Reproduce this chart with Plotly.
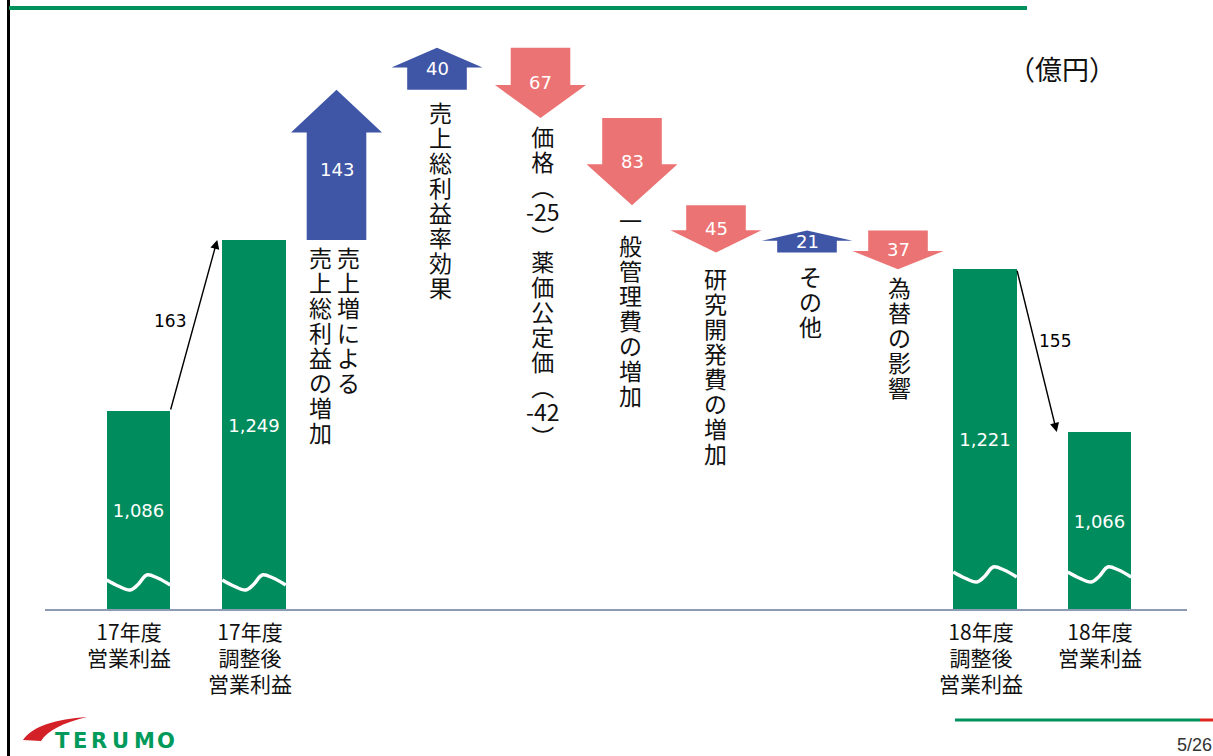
import re
import plotly.graph_objects as go

# ---------------- data ----------------
bar_labels = ["17年度\n営業利益", "17年度\n調整後\n営業利益",
              "18年度\n調整後\n営業利益", "18年度\n営業利益"]
bar_values = [1086, 1249, 1221, 1066]
bridge_values = [163, 155]          # 17年度→調整後, 調整後→18年度
step_values = [143, 40, -67, -83, -45, 21, -37]
step_labels = [
    ["売上増による", "売上総利益の増加"],
    ["売上総利益率効果"],
    ["価格︵-25︶薬価公定価︵-42︶"],
    ["一般管理費の増加"],
    ["研究開発費の増加"],
    ["その他"],
    ["為替の影響"],
]
unit_label = "（億円）"
page_label = "5/26"

# ---------------- layout constants ----------------
W, H = 1213, 756
PXU = 1.05                 # pixels per 億円 on the value axis
FLOOR = 896.5              # value at the broken-axis baseline
BASE_PX = 610              # baseline pixel row
Y_MAX = FLOOR + BASE_PX / PXU
Y_MIN = Y_MAX - H / PXU
X_MAX = W / 100.0          # 1 x-unit = 100 px
bar_x = [1.385, 2.54, 9.85, 10.995]
step_x = [3.365, 4.37, 5.405, 6.32, 7.16, 8.07, 8.98]
BAR_W = 0.635
HEAD_HW = 0.455
BODY_HW = 0.298
HEAD_RATIO = 0.47

GREEN = "#008C5C"
BLUE = "#3F55A5"
RED = "#EC7373"
JP = "Noto Sans CJK JP"
NUM = "DejaVu Sans"


def val_at_px(px):
    return FLOOR + (BASE_PX - px) / PXU


def pp(x, y):
    return f"{x / W:.5f},{1 - y / H:.5f}"


def stacked(lines, glyph_size):
    # lines joined by <br>; base font sets the line pitch, span sets glyph size
    return "<br>".join(f"<span style='font-size:{glyph_size}px'>{t}</span>" for t in lines)


fig = go.Figure()

# ---------------- bars ----------------
fig.add_trace(go.Bar(
    x=bar_x, y=[v - FLOOR for v in bar_values], base=FLOOR,
    width=BAR_W, marker=dict(color=GREEN, line=dict(width=0)),
    text=[f"{v:,}" for v in bar_values], texttemplate="%{text}",
    textposition="inside", insidetextanchor="middle", textangle=0,
    constraintext="none",
    textfont=dict(family=NUM, size=18, color="white"),
    hoverinfo="skip", showlegend=False))

# broken-axis wave marks
wave_frac = [0, 0.18, 0.37, 0.5, 0.63, 0.8, 1.0]
wave_px = [30, 24, 20, 26, 35, 32, 25]
wave_lift = [0, 0, 8, 8]
for bx, lift in zip(bar_x, wave_lift):
    fig.add_trace(go.Scatter(
        x=[bx + (f - 0.5) * BAR_W for f in wave_frac],
        y=[FLOOR + (p + lift) / PXU for p in wave_px],
        mode="lines", line=dict(color="white", width=3.5, shape="spline"),
        hoverinfo="skip", showlegend=False))

# bar category labels
label_dx = [-0.1, -0.04, -0.04, 0.0]
LABEL_PITCH = 26
for bx, dx, lab in zip(bar_x, label_dx, bar_labels):
    lines = lab.split("\n")
    n = len(lines)
    fig.add_annotation(x=bx + dx, y=val_at_px(BASE_PX + 21 + LABEL_PITCH * (n - 1) / 2),
                       xref="x", yref="y", text=stacked(lines, 21), showarrow=False,
                       font=dict(family=JP, size=LABEL_PITCH / 1.3, color="#111111"),
                       xanchor="center", yanchor="middle", align="center")

# bridge arrows 17年度→調整後 and 調整後→18年度
bridges = [
    (bar_x[0] + BAR_W / 2, bar_values[0], bar_x[1] - BAR_W / 2 - 0.05, bar_values[1], -0.235, 4),
    (bar_x[2] + BAR_W / 2, bar_values[2], bar_x[3] - BAR_W / 2 - 0.11, bar_values[3], 0.18, 10),
]
for (x0, y0, x1, y1, ldx, ldy), bv in zip(bridges, bridge_values):
    fig.add_annotation(x=x1, y=y1, ax=x0, ay=y0, xref="x", yref="y",
                       axref="x", ayref="y", text="", showarrow=True,
                       arrowhead=2, arrowsize=1.3, arrowwidth=1.4,
                       arrowcolor="black", standoff=0, startstandoff=0)
    fig.add_annotation(x=(x0 + x1) / 2 + ldx, y=(y0 + y1) / 2 + ldy / PXU,
                       xref="x", yref="y", text=str(bv), showarrow=False,
                       xanchor="center", yanchor="middle",
                       font=dict(family=NUM, size=17, color="black"))

# ---------------- waterfall block arrows ----------------
levels = [bar_values[1]]
for d in step_values:
    levels.append(levels[-1] + d)

text_gap_px = [17, 22, 18, 15, 26, 24, 18]
col_dx = [[0.115, -0.165], [0.03], [0.025], [-0.02], [-0.01], [0.03], [0.01]]
label_dy_px = [-5, 0, 0, 0, 0, 0, 0]
LINE_PX = 25

for i, d in enumerate(step_values):
    b, a = levels[i], levels[i + 1]
    c = step_x[i]
    sign = 1 if d > 0 else -1
    head_px = HEAD_RATIO * min(2 * HEAD_HW * 100, abs(d) * PXU)
    sh = a - sign * head_px / PXU
    path = (f"M {c - BODY_HW},{b} L {c + BODY_HW},{b} L {c + BODY_HW},{sh} "
            f"L {c + HEAD_HW},{sh} L {c},{a} L {c - HEAD_HW},{sh} "
            f"L {c - BODY_HW},{sh} Z")
    fig.add_shape(type="path", path=path, xref="x", yref="y",
                  fillcolor=BLUE if d > 0 else RED, line=dict(width=0),
                  layer="above")
    fig.add_annotation(x=c, y=(a + b) / 2 + label_dy_px[i] / PXU, xref="x", yref="y",
                       text=str(abs(d)), showarrow=False,
                       xanchor="center", yanchor="middle",
                       font=dict(family=NUM, size=18, color="white"))
    # vertical Japanese text: one column per annotation, one glyph per row
    low = min(a, b)
    for col, cdx in zip(step_labels[i], col_dx[i]):
        tokens = re.findall(r"-?\d+|.", col)
        n = len(tokens)
        mid_px = text_gap_px[i] + LINE_PX * (n - 1) / 2
        fig.add_annotation(
            x=c + cdx, y=low - mid_px / PXU, xref="x", yref="y",
            text=stacked(tokens, 23), showarrow=False, align="center",
            font=dict(family=JP, size=LINE_PX / 1.3, color="#111111"),
            xanchor="center", yanchor="middle")

# baseline of the value axis
fig.add_shape(type="line", x0=0.45, x1=11.87, y0=FLOOR, y1=FLOOR,
              xref="x", yref="y", line=dict(color="#8C9DB3", width=2))

# unit label
fig.add_annotation(x=1062 / W, y=1 - 68 / H, xref="paper", yref="paper",
                   text=unit_label, showarrow=False,
                   xanchor="center", yanchor="middle",
                   font=dict(family=JP, size=27, color="#111111"))

# ---------------- slide decoration ----------------
fig.add_shape(type="line", x0=8.5 / W, x1=8.5 / W, y0=0, y1=1,
              xref="paper", yref="paper", line=dict(color="black", width=3))
fig.add_shape(type="line", x0=9 / W, x1=1027 / W, y0=1 - 8 / H, y1=1 - 8 / H,
              xref="paper", yref="paper", line=dict(color="#00925C", width=4))
fig.add_shape(type="line", x0=955 / W, x1=1200 / W, y0=1 - 720 / H, y1=1 - 720 / H,
              xref="paper", yref="paper", line=dict(color="#00925C", width=3))
fig.add_shape(type="line", x0=1200 / W, x1=1, y0=1 - 720 / H, y1=1 - 720 / H,
              xref="paper", yref="paper", line=dict(color="#E0261F", width=3))
fig.add_annotation(x=1194 / W, y=1 - 745 / H, xref="paper", yref="paper",
                   text=page_label, showarrow=False,
                   xanchor="center", yanchor="middle",
                   font=dict(family="Liberation Sans Narrow, Liberation Sans", size=18,
                             color="#333333"))

# TERUMO logo
swoosh = (f"M {pp(23, 740)} C {pp(33, 726)} {pp(56, 719)} {pp(87, 717)} "
          f"C {pp(63, 723)} {pp(48, 730)} {pp(41, 741)} Z")
fig.add_shape(type="path", path=swoosh, xref="paper", yref="paper",
              fillcolor="#D42027", line=dict(width=0))
for ch, lx in zip("TERUMO", [62, 80, 99, 120, 144, 166]):
    fig.add_annotation(x=lx / W, y=1 - 741 / H, xref="paper", yref="paper",
                       text=f"<b>{ch}</b>", showarrow=False,
                       xanchor="center", yanchor="middle",
                       font=dict(family="DejaVu Sans", size=21, color="#009A5B"))

fig.update_layout(
    width=W, height=H, margin=dict(l=0, r=0, t=0, b=0),
    paper_bgcolor="white", plot_bgcolor="white", showlegend=False,
    xaxis=dict(range=[0, X_MAX], visible=False, fixedrange=True),
    yaxis=dict(range=[Y_MIN, Y_MAX], visible=False, fixedrange=True),
    bargap=0,
)

fig.write_html("out.html", config={"displayModeBar": False})
